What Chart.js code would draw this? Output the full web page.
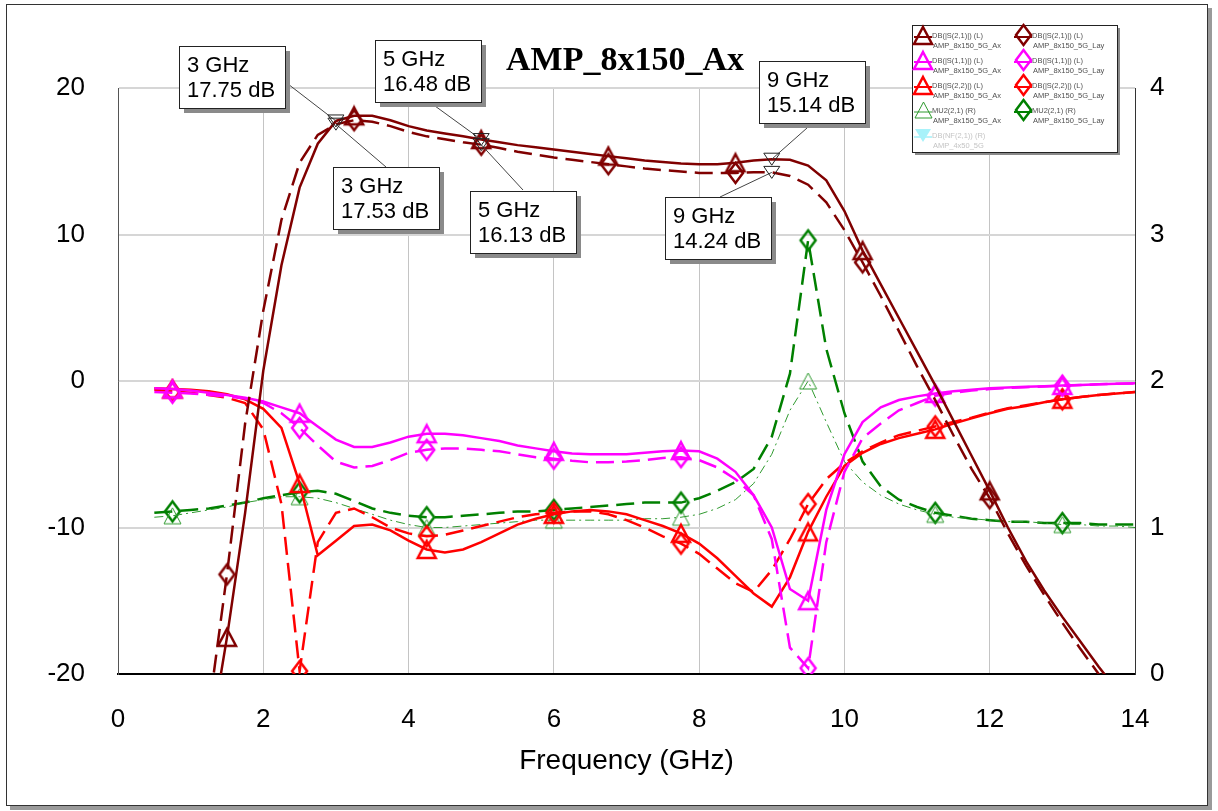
<!DOCTYPE html>
<html>
<head>
<meta charset="utf-8">
<script src="https://cdn.jsdelivr.net/npm/chart.js@4.4.0/dist/chart.umd.min.js"></script>
<style>
  html, body { margin: 0; padding: 0; background: #fff; }
  #wrap { position: relative; width: 1218px; height: 811px; overflow: hidden; }
  #frame { position: absolute; left: 6px; top: 4px; width: 1200px; height: 800px; border: 1px solid #333; box-shadow: 4px 4px 0 #9a9a9a; }
  #chart { position: absolute; left: 0; top: 0; }
</style>
</head>
<body>
<div id="wrap"><div id="frame"></div><canvas id="chart" width="1218" height="811"></canvas></div>
<script>
// frequency grid (GHz)
const freq = [
  0.5, 0.75, 1.0, 1.25, 1.5, 1.75, 2.0, 2.25, 2.5, 2.75, 3.0,
  3.25, 3.5, 3.75, 4.0, 4.25, 4.5, 4.75, 5.0, 5.25, 5.5, 5.75,
  6.0, 6.25, 6.5, 6.75, 7.0, 7.25, 7.5, 7.75, 8.0, 8.25, 8.5,
  8.75, 9.0, 9.25, 9.5, 9.75, 10.0, 10.25, 10.5, 10.75, 11.0, 11.25,
  11.5, 11.75, 12.0, 12.25, 12.5, 12.75, 13.0, 13.25, 13.5, 13.75, 14.0
];

// dB values, left axis
const s21Ax = [
  -52, -44, -35, -25, -17.5, -9.0, 0.7, 7.9, 13.2, 16.2, 17.75,
  18.1, 18.1, 17.8, 17.4, 17.1, 16.9, 16.7, 16.48, 16.3, 16.1, 15.95,
  15.8, 15.65, 15.5, 15.35, 15.2, 15.05, 14.95, 14.85, 14.8, 14.8, 14.9,
  15.05, 15.14, 15.1, 14.7, 13.7, 11.6, 8.9, 6.6, 4.3, 2.0, -0.3,
  -2.7, -5.1, -7.5, -10.0, -12.3, -14.3, -16.1, -17.8, -19.5, -21.1, -22.7
];
const s21Lay = [
  -48, -40, -31, -22.5, -13.2, -2.9, 4.8, 11.0, 14.9, 16.8, 17.53,
  17.8, 17.7, 17.4, 17.0, 16.7, 16.5, 16.3, 16.13, 15.9, 15.65, 15.45,
  15.25, 15.1, 14.95, 14.8, 14.65, 14.5, 14.4, 14.3, 14.2, 14.2, 14.2,
  14.25, 14.24, 14.0, 13.4, 12.2, 10.3, 8.1, 5.8, 3.4, 1.0, -1.3,
  -3.7, -6.0, -8.0, -10.4, -12.6, -14.6, -16.5, -18.3, -20.0, -21.7, -23.3
];
const s11Ax = [
  -0.5, -0.55, -0.65, -0.8, -0.95, -1.15, -1.4, -1.8, -2.2, -3.1, -4.0,
  -4.5, -4.5, -4.2, -3.8, -3.6, -3.6, -3.7, -3.9, -4.1, -4.4, -4.6,
  -4.8, -4.95, -5.0, -5.0, -5.0, -4.9, -4.8, -4.75, -4.8, -5.3, -6.2,
  -7.8, -10.0, -14.2, -15.0, -8.8, -5.0, -2.8, -1.8, -1.3, -1.05, -0.85,
  -0.7, -0.6, -0.5, -0.45, -0.4, -0.35, -0.3, -0.27, -0.22, -0.18, -0.15
];
const s11Lay = [
  -0.75, -0.8, -0.85, -0.95, -1.05, -1.2, -1.5, -2.2, -3.2, -4.4, -5.5,
  -5.9, -5.8, -5.4, -4.9, -4.7, -4.6, -4.6, -4.7, -4.8, -5.0, -5.2,
  -5.3, -5.45, -5.55, -5.55, -5.5, -5.4, -5.25, -5.2, -5.4, -5.9, -6.7,
  -7.8, -10.8, -18.2, -19.6, -11.0, -6.2, -3.9, -2.9, -2.0, -1.5, -1.0,
  -0.8, -0.65, -0.55, -0.47, -0.42, -0.37, -0.32, -0.28, -0.23, -0.19, -0.16
];
const s22Ax = [
  -0.5, -0.55, -0.6, -0.7, -0.9, -1.25, -1.9, -3.2, -7.0, -11.9, -10.9,
  -9.9, -9.8, -10.2, -10.9, -11.5, -11.7, -11.5, -11.0, -10.4, -9.8, -9.4,
  -9.1, -8.9, -8.8, -8.9, -9.1, -9.5, -9.9, -10.4, -11.1, -12.1, -13.3,
  -14.5, -15.4, -13.4, -10.3, -7.9, -5.8, -4.9, -4.3, -3.9, -3.6, -3.3,
  -2.9, -2.55, -2.2, -1.9, -1.7, -1.45, -1.25, -1.1, -0.95, -0.85, -0.75
];
const s22Lay = [
  -0.6, -0.7, -0.8, -0.95, -1.15, -1.5, -3.3, -8.4, -19.8, -11.0, -9.0,
  -8.7, -9.3, -10.0, -10.4, -10.6, -10.5, -10.2, -9.9, -9.6, -9.3, -9.1,
  -9.0, -8.9, -8.9, -9.1, -9.5, -10.0, -10.6, -11.1, -11.8, -12.8, -13.8,
  -14.4, -12.9, -10.8, -8.4, -6.7, -5.6, -4.8, -4.2, -3.7, -3.4, -3.1,
  -2.8, -2.5, -2.15, -1.85, -1.65, -1.45, -1.25, -1.1, -0.95, -0.85, -0.75
];

// MU2 stability factor, right axis
const mu2Ax = [
  1.07, 1.08, 1.10, 1.12, 1.14, 1.17, 1.19, 1.21, 1.21, 1.20, 1.17,
  1.13, 1.09, 1.05, 1.02, 1.00, 1.00, 1.01, 1.02, 1.03, 1.04, 1.05,
  1.05, 1.05, 1.05, 1.05, 1.05, 1.06, 1.06, 1.07, 1.09, 1.13, 1.19,
  1.30, 1.50, 1.80, 2.00, 1.72, 1.45, 1.31, 1.22, 1.16, 1.12, 1.09,
  1.07, 1.06, 1.05, 1.04, 1.04, 1.03, 1.02, 1.02, 1.01, 1.01, 1.00
];
const mu2Lay = [
  1.10, 1.11, 1.12, 1.13, 1.15, 1.17, 1.20, 1.22, 1.24, 1.25, 1.23,
  1.18, 1.13, 1.10, 1.08, 1.07, 1.07, 1.08, 1.09, 1.10, 1.11, 1.11,
  1.12, 1.13, 1.14, 1.15, 1.16, 1.17, 1.17, 1.17, 1.20, 1.25, 1.31,
  1.40, 1.62, 2.05, 2.96, 2.22, 1.78, 1.45, 1.28, 1.19, 1.14, 1.10,
  1.08, 1.06, 1.05, 1.04, 1.04, 1.03, 1.03, 1.03, 1.02, 1.02, 1.02
];

// where the symbols sit on the traces
const markFreqA = [0.75, 2.5, 4.25, 6.0, 7.75, 9.5, 11.25, 13.0];
const markFreqB = [1.5, 3.25, 5.0, 6.75, 8.5, 10.25, 12.0];

// marker readouts
const annoFreq = [3, 3, 5, 5, 9, 9];
const annoValue = [17.75, 17.53, 16.48, 16.13, 15.14, 14.24];

const measNames = ['DB(|S(2,1)|) (L)', 'DB(|S(2,1)|) (L)', 'DB(|S(1,1)|) (L)', 'DB(|S(1,1)|) (L)',
  'DB(|S(2,2)|) (L)', 'DB(|S(2,2)|) (L)', 'MU2(2,1) (R)', 'MU2(2,1) (R)', 'DB(NF(2,1)) (R)'];
const docNames = ['AMP_8x150_5G_Ax', 'AMP_8x150_5G_Lay', 'AMP_8x150_5G_Ax', 'AMP_8x150_5G_Lay',
  'AMP_8x150_5G_Ax', 'AMP_8x150_5G_Lay', 'AMP_8x150_5G_Ax', 'AMP_8x150_5G_Lay', 'AMP_4x50_5G'];

const SANS = "'Liberation Sans', Arial, sans-serif";
const SERIF = "'Liberation Serif', 'Times New Roman', serif";
const DASH = [18, 8];

// box layout for the marker readouts (left, top, leader start)
const ANNO_BOXES = [
  { x: 179, y: 46, lx: 288, ly: 84 },
  { x: 333, y: 167, lx: 386, ly: 167 },
  { x: 375, y: 40, lx: 435, ly: 106 },
  { x: 470, y: 191, lx: 523, ly: 190 },
  { x: 759, y: 61, lx: 807, ly: 128 },
  { x: 665, y: 197, lx: 720, ly: 197 }
];

function makeTri(color, lw, w, h) {
  const c = document.createElement('canvas');
  c.width = w + 6; c.height = h + 6;
  const g = c.getContext('2d');
  g.strokeStyle = color; g.lineWidth = lw; g.lineJoin = 'miter';
  const cx = c.width / 2, cy = c.height / 2;
  g.beginPath();
  g.moveTo(cx, cy - h / 2); g.lineTo(cx + w / 2, cy + h / 2); g.lineTo(cx - w / 2, cy + h / 2);
  g.closePath(); g.stroke();
  return c;
}
function makeDia(color, lw, w, h) {
  const c = document.createElement('canvas');
  c.width = w + 6; c.height = h + 6;
  const g = c.getContext('2d');
  g.strokeStyle = color; g.lineWidth = lw;
  const cx = c.width / 2, cy = c.height / 2;
  g.beginPath();
  g.moveTo(cx, cy - h / 2); g.lineTo(cx + w / 2, cy); g.lineTo(cx, cy + h / 2); g.lineTo(cx - w / 2, cy);
  g.closePath(); g.stroke();
  return c;
}
function makeInvTri(fill, w, h) {
  const c = document.createElement('canvas');
  c.width = w + 4; c.height = h + 4;
  const g = c.getContext('2d');
  g.fillStyle = fill;
  const cx = c.width / 2, cy = c.height / 2;
  g.beginPath();
  g.moveTo(cx - w / 2, cy - h / 2); g.lineTo(cx + w / 2, cy - h / 2); g.lineTo(cx, cy + h / 2);
  g.closePath(); g.fill();
  return c;
}

const pts = vals => freq.map((f, i) => ({ x: f, y: vals[i] }));
const marks = set => (ctx => set.includes(freq[ctx.dataIndex]) ? 6 : 0);

function series(i, vals, color, img, opts) {
  return Object.assign({
    label: measNames[i], doc: docNames[i], data: pts(vals),
    borderColor: color, borderWidth: 2.5, tension: 0, yAxisID: 'y',
    pointStyle: img, pointRadius: marks(markFreqA), pointHoverRadius: 0
  }, opts || {});
}

const MAROON = '#800000', MAGENTA = '#ff00ff', RED = '#ff0000', GREEN = '#008000';

const datasets = [
  series(0, s21Ax, MAROON, makeTri(MAROON, 2.5, 18, 17), { pointRadius: marks(markFreqB) }),
  series(1, s21Lay, MAROON, makeDia(MAROON, 2.5, 15, 20), { pointRadius: marks(markFreqB), borderDash: DASH }),
  series(2, s11Ax, MAGENTA, makeTri(MAGENTA, 2.5, 18, 17)),
  series(3, s11Lay, MAGENTA, makeDia(MAGENTA, 2.5, 15, 20), { borderDash: DASH }),
  series(4, s22Ax, RED, makeTri(RED, 2.5, 18, 17)),
  series(5, s22Lay, RED, makeDia(RED, 2.5, 15, 20), { borderDash: DASH }),
  series(6, mu2Ax, '#2f9a2f', makeTri('#2f9a2f', 1, 17, 16), { yAxisID: 'y2', borderWidth: 1, borderDash: [9, 4, 2, 4] }),
  series(7, mu2Lay, GREEN, makeDia(GREEN, 2.5, 15, 20), { yAxisID: 'y2', borderDash: DASH }),
  { label: measNames[8], doc: docNames[8], data: [], borderColor: '#b8f4fa', borderWidth: 2,
    pointStyle: makeInvTri('#a8f2fa', 16, 13), yAxisID: 'y2' }
];

const overlay = {
  id: 'overlay',
  afterDatasetsDraw(chart) {
    const ctx = chart.ctx;
    const xs = chart.scales.x, ys = chart.scales.y;
    ctx.save();
    annoFreq.forEach((f, i) => {
      const px = xs.getPixelForValue(f), py = ys.getPixelForValue(annoValue[i]);
      const b = ANNO_BOXES[i];
      ctx.strokeStyle = '#444'; ctx.lineWidth = 1;
      ctx.beginPath(); ctx.moveTo(b.lx, b.ly); ctx.lineTo(px, py); ctx.stroke();
      ctx.beginPath();
      ctx.moveTo(px - 8, py - 6); ctx.lineTo(px + 8, py - 6); ctx.lineTo(px, py + 6); ctx.closePath();
      ctx.strokeStyle = '#222'; ctx.stroke();
      const w = 106, h = 62;
      ctx.fillStyle = '#8a8a8a';
      ctx.fillRect(b.x + 5, b.y + 5, w, h);
      ctx.fillStyle = '#fff';
      ctx.fillRect(b.x, b.y, w, h);
      ctx.strokeStyle = '#222';
      ctx.strokeRect(b.x + 0.5, b.y + 0.5, w, h);
      ctx.fillStyle = '#000';
      ctx.font = '22px ' + SANS;
      ctx.textBaseline = 'middle'; ctx.textAlign = 'left';
      ctx.fillText(f + ' GHz', b.x + 8, b.y + 20);
      ctx.fillText(annoValue[i].toFixed(2) + ' dB', b.x + 8, b.y + 45);
    });
    ctx.restore();
  },
  afterDraw(chart) {
    const ctx = chart.ctx;
    ctx.save();
    // title
    ctx.fillStyle = '#000';
    ctx.font = 'bold 34px ' + SERIF;
    ctx.textAlign = 'center'; ctx.textBaseline = 'alphabetic';
    ctx.fillText('AMP_8x150_Ax', 625, 70);
    // legend box
    const L = { x: 912, y: 25, w: 205, h: 127 };
    ctx.fillStyle = '#8a8a8a';
    ctx.fillRect(L.x + 3, L.y + 3, L.w, L.h);
    ctx.fillStyle = '#fff';
    ctx.fillRect(L.x, L.y, L.w, L.h);
    ctx.strokeStyle = '#222'; ctx.lineWidth = 1;
    ctx.strokeRect(L.x + 0.5, L.y + 0.5, L.w, L.h);
    chart.data.datasets.forEach((ds, i) => {
      const row = Math.floor(i / 2), col = i % 2;
      const ix = L.x + 11 + col * 100, iy = L.y + 10 + row * 25;
      const img = ds.pointStyle;
      ctx.strokeStyle = ds.borderColor;
      ctx.lineWidth = Math.min(ds.borderWidth, 2);
      ctx.beginPath(); ctx.moveTo(ix - 9, iy + 2); ctx.lineTo(ix + 9, iy + 2); ctx.stroke();
      ctx.drawImage(img, Math.round(ix - img.width / 2), Math.round(iy - img.height / 2));
      ctx.font = '7.5px ' + SANS;
      ctx.textAlign = 'left'; ctx.textBaseline = 'middle';
      ctx.fillStyle = i === 8 ? '#c4c4c4' : '#505050';
      ctx.fillText(ds.label, ix + 9, iy + 1);
      ctx.fillText(ds.doc, ix + 10, iy + 11);
    });
    ctx.restore();
  }
};

new Chart(document.getElementById('chart'), {
  type: 'line',
  data: { datasets },
  plugins: [overlay],
  options: {
    responsive: false,
    animation: false,
    events: [],
    layout: { padding: { top: 88, left: 0, right: 0, bottom: 0 } },
    plugins: { legend: { display: false }, tooltip: { enabled: false }, title: { display: false } },
    scales: {
      x: {
        type: 'linear', min: 0, max: 14, position: 'bottom',
        ticks: { stepSize: 2, color: '#000', font: { family: SANS, size: 26 }, padding: 30, maxRotation: 0 },
        grid: { color: '#c4c4c4', lineWidth: 1, drawTicks: false },
        border: { color: '#000', width: 2 },
        title: { display: true, text: 'Frequency (GHz)', color: '#000', font: { family: SANS, size: 28 }, padding: { top: 0, bottom: 33 } },
        afterFit: s => { s.height = 137; }
      },
      y: {
        position: 'left', min: -20, max: 20,
        ticks: { stepSize: 10, color: '#000', font: { family: SANS, size: 26 }, padding: 33 },
        grid: { color: '#d6d6d6', lineWidth: 2, drawTicks: false },
        border: { color: '#555', width: 1 },
        afterFit: s => { s.width = 118; }
      },
      y2: {
        position: 'right', min: 0, max: 4,
        ticks: { stepSize: 1, color: '#000', font: { family: SANS, size: 26 }, padding: 15 },
        grid: { display: false, drawTicks: false },
        border: { color: '#333', width: 1 },
        afterFit: s => { s.width = 83; }
      }
    }
  }
});
</script>
</body>
</html>
